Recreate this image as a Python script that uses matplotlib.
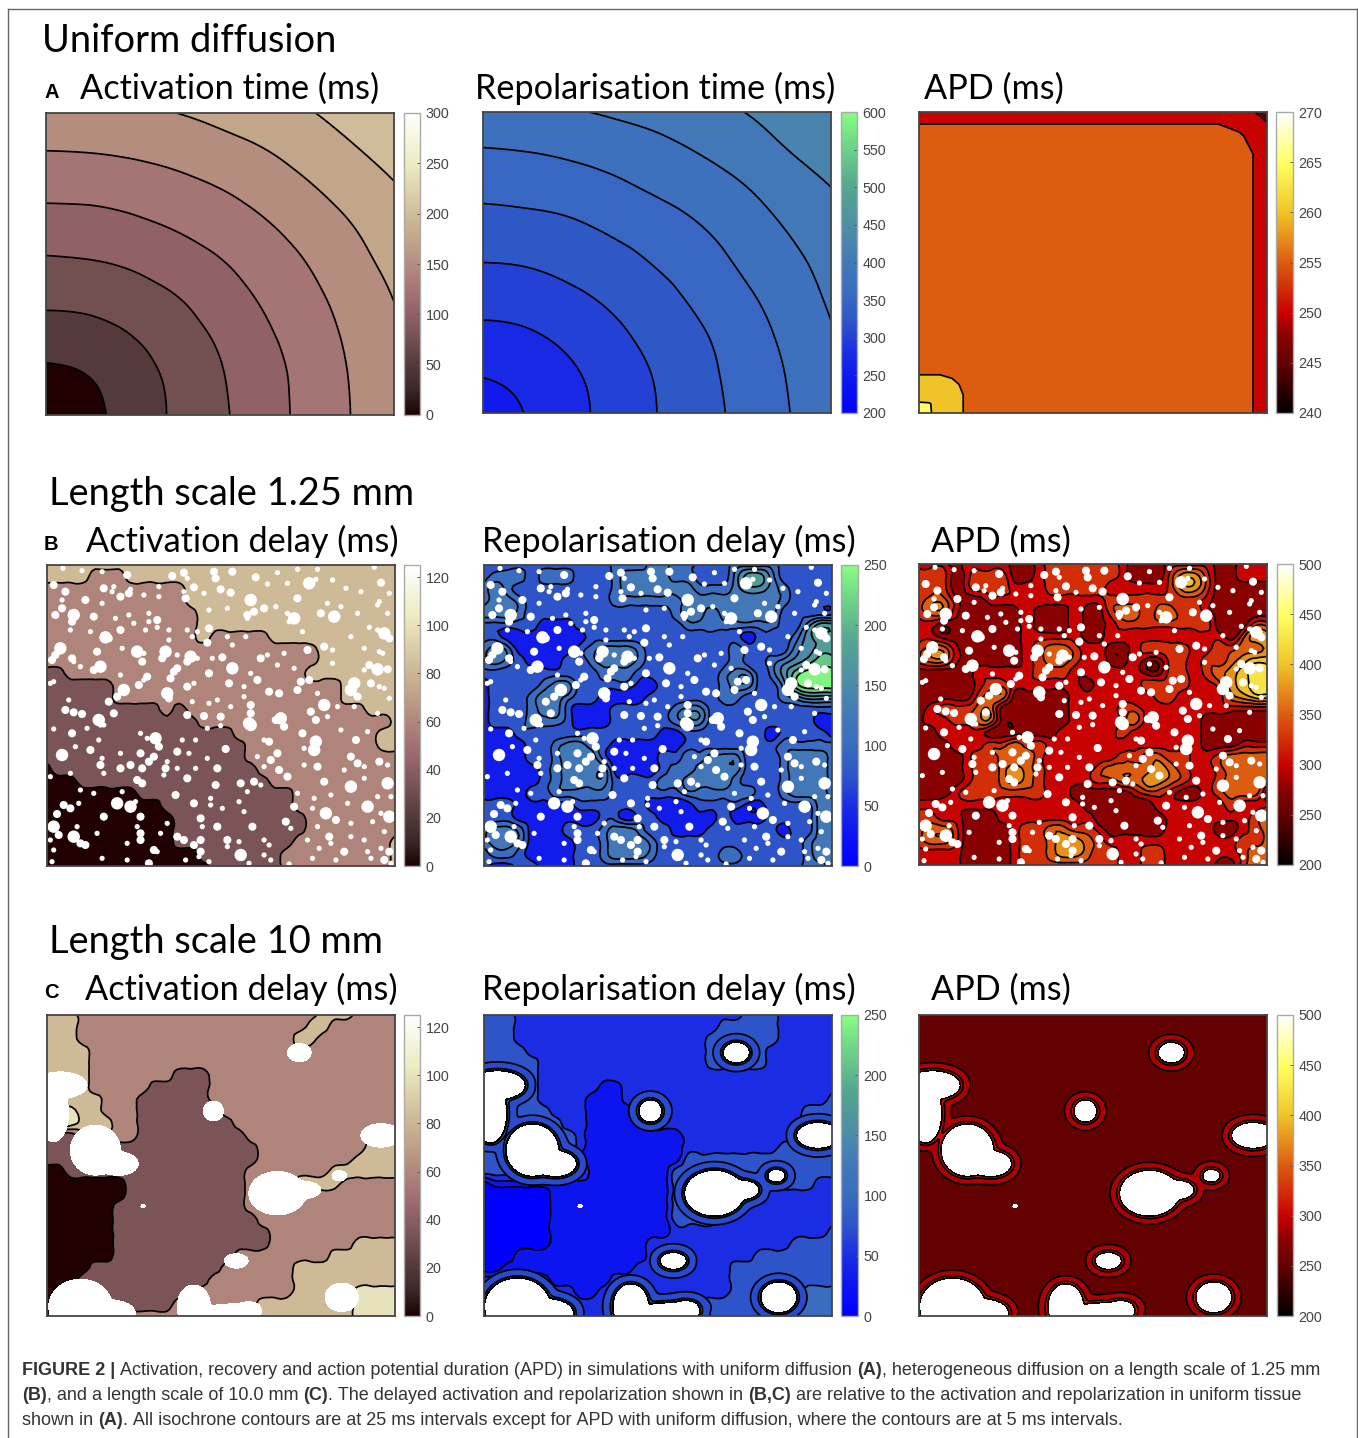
import numpy as np
import matplotlib
matplotlib.use("Agg")
import matplotlib.pyplot as plt
from matplotlib.cm import ScalarMappable
from matplotlib.colors import LinearSegmentedColormap, Normalize
from matplotlib.lines import Line2D
from matplotlib.tri import Triangulation, UniformTriRefiner

W, H = 1358, 1438

# uniform tissue, values read at eighths of the tissue width and height
ACT_TIME = [
    [25, 43, 61, 79, 96, 114, 132, 150, 168],
    [43, 50, 64, 81, 98, 115, 133, 151, 169],
    [61, 64, 74, 88, 103, 120, 136, 154, 171],
    [79, 81, 88, 98, 112, 127, 142, 159, 175],
    [96, 98, 103, 112, 123, 136, 150, 166, 181],
    [114, 115, 120, 127, 136, 147, 160, 174, 189],
    [132, 133, 136, 142, 150, 160, 172, 185, 198],
    [150, 151, 154, 159, 166, 174, 185, 197, 209],
    [168, 169, 171, 175, 181, 189, 198, 209, 221],
]
REPOL_TIME = [
    [260, 276, 292, 309, 325, 341, 357, 374, 390],
    [276, 283, 296, 311, 327, 343, 359, 376, 395],
    [292, 296, 306, 319, 333, 347, 363, 380, 398],
    [309, 311, 319, 329, 341, 355, 370, 386, 403],
    [325, 327, 333, 341, 352, 364, 379, 393, 409],
    [341, 343, 347, 355, 364, 375, 388, 402, 417],
    [357, 359, 363, 370, 379, 388, 399, 413, 425],
    [374, 376, 380, 386, 393, 402, 413, 425, 434],
    [393, 395, 398, 403, 409, 417, 425, 433, 440],
]
APD_U = [0, 3, 6, 9.5, 12.7, 20, 86, 92, 96, 100]
APD_UNIFORM = [
    [268, 265.5, 263, 261.2, 260, 258, 256, 255.8, 255, 251.5],
    [265.5, 265.3, 263, 261.2, 260, 258, 256, 255.8, 255, 251.5],
    [263, 263, 262.4, 261, 260, 258, 256, 255.8, 255, 251.5],
    [261.2, 261.2, 261, 260.5, 259.7, 258, 256, 255.8, 255, 251.5],
    [260, 260, 260, 259.7, 259.2, 258, 256, 255.8, 255, 251.5],
    [258, 258, 258, 258, 258, 257.5, 256, 255.8, 255, 251.5],
    [256, 256, 256, 256, 256, 256, 256, 255.8, 255, 251.5],
    [255.8, 255.8, 255.8, 255.8, 255.8, 255.8, 255.8, 255.5, 254, 251.2],
    [255, 255, 255, 255, 255, 255, 255, 254, 252, 250.5],
    [251.5, 251.5, 251.5, 251.5, 251.5, 251.5, 251.5, 251.2, 250.5, 247],
]

# band number of each grid node, top row first
B_ACT = [
    "333333333333333333333333333333", "333322233333333333333333333333",
    "222222222222333333333333333333", "222222222222333333333333333333",
    "222222222222233333333333333333", "222222222222233333333333333333",
    "222222222222232222233333333333", "222222222222222222222223333333",
    "222222222222222222222223333333", "112222222222222222222233333333",
    "111111222222222222222222233333", "111111222222222222222222233333",
    "111111111121222222222222222333", "111111111111122222222222222223",
    "111111111111111122222222222233", "111111111111111112222222222233",
    "111111111111111112222222222222", "011111111111111111222222222222",
    "000111111111111111122222222222", "000000001111111111111222222222",
    "000000000011111111111222222222", "000000000001111111111122222222",
    "000000000001111111111122222222", "000000000001111111111222222223",
    "000000000000011111112222222223", "000000000000001111112222222223",
]
B_REP = [
    "333333333334445544333444433333", "344434443334555544333577533333",
    "454333333334555555444566543333", "455433333334444445555555543333",
    "555433333333333345545555533333", "333332223333333334444444433577",
    "332222222333333333333323334677", "454222223455543333333433335677",
    "454322233455543333333433456788", "333333333344433333334553468999",
    "233334553333322333334553358999", "233345543322223333334433345666",
    "233345532223333345533333333333", "233344432223333345533333333322",
    "222333333333333223333333233332", "222233455432222223333333344444",
    "222233455532222334455533345554", "222223455552222344555533345554",
    "222223455553333445555433345554", "222233444443333334444443345554",
    "333222223333332222333322333355", "333222222233233222223222333355",
    "455422233345543322233333323355", "455422223345554333333333333455",
    "344322223345554333334433333455", "322332223333333333333333333445",
]
B_APD = [
    "222122221123333332111222211222", "333123331123333332111355311222",
    "333123332223333322222355311111", "344211222222222233333333211111",
    "344211111211121134434433211111", "221111111211121123333333311133",
    "221111111222221122222222221355", "344211111234432211233332233445",
    "344211111234432211211332334566", "111112222233322222211332345677",
    "111112332222221222233332235677", "111113441111122222223322224566",
    "123334411111122223322222222222", "122334411111122223422222111111",
    "112222111111222223222222111111", "111222334332222222222222111222",
    "111123344432222223344332234444", "111123345432222344445432234444",
    "111123345432222334455432234444", "111233333332211111233211234441",
    "222222222222221111112222223222", "332211122222222111111222222234",
    "344311112334433211111222211234", "344311112334554322222222222334",
    "222211112334554332233222222344", "222211112333333332233222211344",
]
C_ACT = [
    "333222222222222222222223332222", "333222222222222222222233222222",
    "333222222222222222222332222222", "333322222222222222222222222222",
    "333322222222222222222222222222", "333322222221112222222222222222",
    "333322222111112222222222222222", "333332221111112222222222222222",
    "344332221111111222222222222222", "344333221111111122222222222222",
    "111222221111111112222222222222", "111111111111111111222222222333",
    "111111111111111111222222223333", "001111111111111112222222333333",
    "000000011111111112222333322222", "000000011111111112222222222222",
    "000000111111111112222222222222", "000000111111111111222222222222",
    "000000111111111111122222222222", "000000111111111111122222223333",
    "000000111111111122222222333333", "000011111111111222222333333333",
    "000111111111112222222333333333", "001111111111122222222333334444",
    "000111111112222222333333334444", "000111222222222222333333334444",
]
C_REP = [
    "333222222222222222222233322222", "333222222222222222223333322222",
    "333222222222222222233333322222", "333322222222222222233333222222",
    "333332222222222222233333222222", "333332222222222222222222222222",
    "333332222211222222222222222222", "333332222111222222222222222223",
    "333333222111122222222222222333", "333333322111112222222222222333",
    "333333332111111112222222222333", "333333332111111112222222233333",
    "333333332111111113333333333333", "333333333111111133333333333333",
    "011111111111111133333333333322", "000000111111111133333333222222",
    "000000111111111133333322222222", "000000111111111133332222222222",
    "000000111111111122222222222223", "000000111111112222222222223333",
    "000111111111112222222223333333", "001111111111122222222333333333",
    "222222111112222222222333333333", "222222221122222222222333333444",
    "222222222222333333333333344444", "222222222222333333333333344444",
]

# unactivated spots of the 1.25 mm tissue: x, y from the panel's top left
# on a 1042 x 903 scale, and a size class
SPOTS = [
    (48,10,1),(105,17,1),(165,20,1),(240,30,2),(375,33,2),(410,23,2),(420,40,1),(500,20,2),(505,40,2),(555,20,2),
    (625,37,2),(690,23,1),(750,13,1),(810,13,1),(980,7,1),(20,60,2),(55,80,2),(250,73,1),(170,70,2),(195,80,1),
    (200,65,1),(335,65,1),(410,80,1),(440,67,2),(470,85,1),(520,73,2),(550,83,2),(660,57,1),(720,55,1),(785,55,3),
    (805,43,1),(855,45,1),(895,70,1),(940,80,1),(1000,53,2),(1025,85,1),(45,105,1),(115,105,2),(165,115,1),(220,95,2),
    (245,85,2),(290,90,1),(335,95,1),(415,100,2),(610,105,3),(750,100,2),(840,115,1),(880,125,1),(995,110,1),(485,135,1),
    (540,130,1),(45,130,2),(25,150,2),(80,150,3),(75,170,2),(140,155,2),(205,160,1),(245,150,1),(305,145,1),(330,165,2),
    (305,170,1),(260,175,1),(600,150,2),(620,140,2),(650,130,2),(685,125,1),(600,160,1),(740,160,3),(720,145,1),(820,145,2),
    (860,155,3),(930,145,1),(990,120,1),(1020,145,1),(725,170,1),(70,195,1),(130,200,1),(220,195,2),(295,195,1),(330,187,1),
    (365,195,1),(420,195,1),(450,200,1),(485,190,2),(965,187,1),(765,200,1),(910,215,1),(1010,205,3),(990,195,1),(1025,220,2),
    (595,215,1),(540,215,1),(175,217,3),(185,220,2),(365,225,1),(480,233,2),(435,215,1),(40,250,3),(25,270,2),(15,285,2),
    (75,280,2),(80,290,1),(150,260,2),(225,250,1),(270,260,3),(290,265,1),(355,260,3),(345,280,2),(390,270,1),(430,275,3),
    (420,290,2),(450,280,1),(495,280,1),(525,277,2),(555,240,1),(640,280,2),(660,270,1),(710,265,1),(780,255,2),(830,245,2),
    (855,255,1),(950,250,1),(995,260,1),(1005,265,1),(100,305,1),(160,305,3),(140,315,2),(285,290,2),(380,320,2),(390,310,2),
    (555,310,3),(485,325,2),(610,325,1),(690,300,1),(740,310,1),(965,300,2),(990,313,3),(1020,313,2),(950,315,1),(855,295,1),
    (220,330,1),(300,335,2),(290,345,1),(370,340,2),(630,345,2),(545,355,2),(785,345,2),(760,350,2),(920,355,3),(910,375,3),
    (970,355,2),(930,395,2),(1010,370,1),(1025,400,1),(275,360,2),(230,375,3),(210,395,2),(360,385,3),(365,400,2),(420,365,2),
    (440,355,1),(590,365,1),(665,380,2),(695,385,2),(750,375,2),(810,385,1),(185,410,2),(995,365,1),(65,405,1),(10,355,1),
    (20,350,1),(435,410,1),(510,405,1),(590,395,1),(610,420,2),(485,415,1),(830,420,3),(870,425,1),(550,425,1),(920,425,1),
    (55,435,2),(80,442,2),(105,447,2),(200,445,2),(155,465,3),(170,480,1),(420,450,2),(470,453,2),(520,455,2),(610,445,2),
    (605,475,3),(610,480,3),(700,460,3),(685,465,2),(790,440,2),(805,465,2),(840,455,1),(990,445,1),(20,492,1),(75,505,2),
    (120,490,1),(160,480,1),(280,505,1),(325,520,3),(335,545,2),(480,490,1),(520,482,1),(710,485,2),(765,505,2),(880,495,1),
    (925,525,2),(960,500,1),(155,525,1),(130,555,2),(85,545,1),(300,520,1),(445,525,1),(405,525,1),(390,560,2),(535,552,2),
    (650,525,1),(665,530,2),(805,530,3),(800,555,3),(45,570,3),(165,580,1),(220,565,1),(280,565,2),(320,575,2),(305,590,2),
    (425,565,1),(360,590,1),(480,580,1),(690,565,2),(670,585,2),(630,575,1),(770,550,1),(910,575,2),(930,595,2),(995,590,2),
    (1020,600,1),(160,600,2),(220,610,2),(250,600,2),(285,610,2),(355,610,2),(390,610,1),(445,610,1),(510,610,2),(650,605,1),
    (695,615,2),(770,600,1),(810,605,2),(890,615,1),(950,605,1),(10,635,1),(70,625,1),(170,625,1),(270,645,2),(285,655,2),
    (350,630,1),(420,640,2),(505,660,2),(580,655,2),(620,650,2),(640,660,1),(720,635,2),(830,650,2),(910,665,3),(1020,655,3),
    (950,640,1),(100,675,1),(140,685,1),(225,680,1),(385,690,2),(490,700,1),(600,680,1),(750,685,1),(800,700,1),(850,690,1),
    (990,695,1),(1030,695,1),(50,720,2),(95,715,1),(210,715,3),(250,725,3),(265,710,1),(440,715,2),(490,720,1),(525,730,1),
    (575,710,1),(740,725,2),(835,745,3),(960,725,3),(900,715,1),(795,730,1),(30,747,2),(70,730,2),(170,755,2),(280,755,2),
    (460,760,2),(590,740,1),(715,770,2),(865,765,2),(1025,755,3),(910,775,1),(1000,745,1),(20,785,3),(35,810,2),(80,815,3),
    (100,835,2),(115,840,2),(150,805,1),(280,805,2),(270,785,1),(360,775,1),(465,785,1),(510,785,2),(615,785,2),(730,790,1),
    (810,785,1),(975,770,1),(1010,800,1),(10,825,1),(90,785,1),(340,805,1),(390,815,2),(410,825,2),(440,840,2),(460,825,2),
    (540,825,2),(575,830,1),(650,825,1),(665,840,1),(780,825,1),(845,815,2),(850,835,1),(910,815,1),(950,825,1),(20,855,1),
    (240,835,1),(280,825,2),(320,855,2),(330,860,1),(460,860,2),(540,845,1),(580,870,3),(650,870,1),(815,850,1),(890,860,2),
    (960,860,1),(1000,850,1),(1025,860,2),(15,890,1),(165,880,1),(240,885,1),(305,895,2),(415,885,1),(455,875,1),(485,890,1),
    (605,895,1),(670,885,1),(725,897,1),(795,880,1),(865,885,1),(970,880,1),(1010,885,2),(1030,895,1),
]

# unactivated patches of the 10 mm tissue, in percent of width and height
PATCH_X = [72.5, 3.8, 1.9, 13.9, 20.6, 47.8, 96, 66.2, 73.9, 84, 54.4, 84.7, 9.6, 18.2, 42.2, 52.8, 58, 27.6]
PATCH_Y = [87.5, 76.7, 67.3, 55.1, 50.6, 68.1, 60, 40.8, 41.9, 46.6, 18.3, 6.2, 3.1, 0.9, 3.1, 0.9, 2.5, 36.5]
PATCH_RX = [3.4, 7.7, 4.3, 7.2, 5.6, 2.9, 5.8, 8.2, 4.8, 2.1, 3.4, 4.8, 9.1, 7.2, 4.8, 8.6, 3.4, 0.6]
PATCH_RY = [3.0, 4.4, 9.4, 8.3, 3.9, 3.3, 3.9, 7.2, 2.8, 1.7, 2.4, 4.7, 9.1, 4.4, 7.2, 3.1, 2.2, 0.6]

PINK_BANDS = [0, .27, .47, .66, .8]
BLUE_BANDS = [0, .1, .13, .3, .4, .5, .6, .7, .85, .97]
TICKS_ACT = [0, 20, 40, 60, 80, 100, 120]
TICKS_REP = [0, 50, 100, 150, 200, 250]
TICKS_APD = [200, 250, 300, 350, 400, 450, 500]

pink = LinearSegmentedColormap.from_list("pinkish", [
    (0, "#200000"), (.083, "#3a2828"), (.167, "#553a3a"), (.25, "#735050"), (.33, "#8f6066"),
    (.417, "#a57575"), (.5, "#b58c7f"), (.583, "#c2a68a"), (.667, "#d0bc9a"), (.83, "#ecebc0"), (1, "#ffffff")])
blue = LinearSegmentedColormap.from_list("bluegreen", [
    (0, "#0000ff"), (.1, "#0c14f0"), (.2, "#1a2ce4"), (.3, "#2d55c8"), (.4, "#3a6cc0"), (.5, "#4278b8"),
    (.6, "#4d8aaa"), (.75, "#55a590"), (.9, "#70d888"), (1, "#88ff80")])
hot = LinearSegmentedColormap.from_list("hotish", [
    (0, "#000000"), (.167, "#640000"), (.25, "#880000"), (.33, "#c80000"), (.5, "#dc5c10"),
    (.667, "#f0c428"), (.83, "#ffff60"), (1, "#ffffff")])

plt.rcParams["font.family"] = ["Liberation Sans", "DejaVu Sans"]
fig = plt.figure(figsize=(W / 100, H / 100), dpi=100)


def panel(x0, y0, x1, y1):
    ax = fig.add_axes([x0 / W, 1 - y1 / H, (x1 - x0) / W, (y1 - y0) / H])
    ax.set_xlim(0, 100)
    ax.set_ylim(0, 100)
    ax.set_xticks([])
    ax.set_yticks([])
    for s in ax.spines.values():
        s.set_color("#444444")
        s.set_linewidth(1.3)
        s.set_zorder(10)
    return ax


def colorbar(x0, y0, x1, y1, cmap, vmin, vmax, ticks):
    cax = fig.add_axes([x0 / W, 1 - y1 / H, (x1 - x0) / W, (y1 - y0) / H])
    sm = ScalarMappable(Normalize(vmin, vmax), cmap)
    cb = fig.colorbar(sm, cax=cax, ticks=ticks)
    cb.outline.set_edgecolor("#aaaaaa")
    cb.outline.set_linewidth(1)
    cax.tick_params(length=2.5, width=.7, direction="in", color="#555555", labelcolor="#444444",
                    labelsize=10.3, pad=4)


def smooth_field(ax, x, y, z, levels, colors, subdiv=3):
    xx, yy = np.meshgrid(x, y)
    tri = Triangulation(xx.ravel(), yy.ravel())
    tri2, z2 = UniformTriRefiner(tri).refine_field(np.asarray(z, float).ravel(), subdiv=subdiv)
    z2 = np.clip(z2, levels[0] + 1e-3, levels[-1] - 1e-3)
    ax.tricontourf(tri2, z2, levels=levels, colors=colors)
    ax.tricontour(tri2, z2, levels=levels[1:-1], colors="black", linewidths=1.25)


def band_field(ax, rows, fractions, cmap):
    z = np.array([[int(c) for c in r.ljust(30, r[-1])[:30]] for r in rows], float)[::-1]
    x = np.linspace(0, 100, z.shape[1])
    y = np.linspace(0, 100, z.shape[0])
    levels = np.arange(len(fractions) + 1) - .5
    smooth_field(ax, x, y, z, levels, [cmap(f) for f in fractions], subdiv=2)


def spots(ax):
    sx, sy, sr = zip(*SPOTS)
    s = np.array([0, 14, 34, 80])[np.array(sr)]
    ax.scatter(np.array(sx) / 10.42, 100 - np.array(sy) / 9.03, s=s, c="white", linewidths=0, zorder=5)


def patch_distance(n=600, skip_dot=False):
    x = np.linspace(0, 100, n)
    xx, yy = np.meshgrid(x, x)
    total = np.zeros_like(xx)
    for cx, cy, rx, ry in zip(PATCH_X, PATCH_Y, PATCH_RX, PATCH_RY):
        if skip_dot and rx < 1:
            continue
        r = np.sqrt(((xx - cx) / rx) ** 2 + ((yy - cy) / ry) ** 2) + 1e-6
        g = np.sqrt(((xx - cx) / rx ** 2) ** 2 + ((yy - cy) / ry ** 2) ** 2) / r
        total += np.exp(-2 * (r - 1) / g)
    return x, -np.log(total) / 2


def patches(ax, ring_levels=None, ring_colors=None, line_levels=None):
    x, d = patch_distance(skip_dot=True)
    if ring_levels is not None:
        ax.contourf(x, x, d, levels=ring_levels, colors=ring_colors, zorder=3)
        ax.contour(x, x, d, levels=line_levels, colors="black", linewidths=1.25, zorder=4)
        ax.contour(x, x, d, levels=[.18], colors="black", linewidths=2.4, zorder=4)
    x, d = patch_distance()
    ax.contourf(x, x, d, levels=[d.min() - 1, 0], colors="white", zorder=5)


def label(x, y, text, size=24.7, family="Lato", weight="normal"):
    fig.text(x / W, 1 - y / H, text, fontsize=size, family=family, weight=weight, va="baseline", color="black")


# row A
ax = panel(46, 113, 394, 415)
u = np.linspace(0, 100, 9)
levels = [0, 50, 75, 100, 125, 150, 175, 200, 225]
smooth_field(ax, u, u, ACT_TIME, levels, [pink(v / 300) for v in levels[:-1]])
colorbar(404, 113, 420, 415, pink, 0, 300, [0, 50, 100, 150, 200, 250, 300])

ax = panel(483, 112, 831, 413)
levels = [200, 275, 300, 325, 350, 375, 400, 425, 450]
fills = [blue((v - 200) / 400) for v in [250, 275, 300, 325, 350, 375, 400, 425]]
smooth_field(ax, u, u, REPOL_TIME, levels, fills)
colorbar(841, 112, 857, 413, blue, 200, 600, [200, 250, 300, 350, 400, 450, 500, 550, 600])

ax = panel(919, 112, 1267, 413)
levels = [245, 250, 255, 260, 265, 270]
ax.contourf(APD_U, APD_U, APD_UNIFORM, levels=levels, colors=[hot((v - 240) / 30) for v in levels[:-1]])
ax.contour(APD_U, APD_U, APD_UNIFORM, levels=levels[1:-1], colors="black", linewidths=1.25)
colorbar(1276, 112, 1293, 413, hot, 240, 270, [240, 245, 250, 255, 260, 265, 270])

# row B
ax = panel(47, 565, 395, 866)
band_field(ax, B_ACT, PINK_BANDS, pink)
spots(ax)
colorbar(404, 565, 420, 866, pink, 0, 125, TICKS_ACT)

ax = panel(484, 565, 832, 866)
band_field(ax, B_REP, BLUE_BANDS, blue)
spots(ax)
colorbar(841, 565, 858, 866, blue, 0, 250, TICKS_REP)

ax = panel(919, 564, 1267, 865)
band_field(ax, B_APD, [(d * 25 + 50) / 300 for d in range(9)], hot)
spots(ax)
colorbar(1277, 564, 1293, 865, hot, 200, 500, TICKS_APD)

# row C
ax = panel(47, 1015, 395, 1316)
band_field(ax, C_ACT, PINK_BANDS, pink)
patches(ax)
colorbar(404, 1015, 420, 1316, pink, 0, 125, TICKS_ACT)

ax = panel(484, 1015, 832, 1316)
band_field(ax, C_REP, [d * .1 for d in range(5)], blue)
patches(ax, [0, .5, 1.1, 3.3], [blue(.6), blue(.45), blue(.28)], [.5, 1.1, 3.3])
colorbar(841, 1015, 858, 1316, blue, 0, 250, TICKS_REP)

ax = panel(919, 1015, 1267, 1316)
ax.set_facecolor(hot(.167))
patches(ax, [0, 1.2, 3.1], [hot(.36), hot(.3)], [1.2, 3.1])
colorbar(1277, 1015, 1293, 1316, hot, 200, 500, TICKS_APD)

# headings
label(42, 52, "Uniform diffusion", 27.4)
label(44, 98, "A", 14.5, "Liberation Sans", "bold")
label(80, 99, "Activation time (ms)")
label(475, 99, "Repolarisation time (ms)")
label(924, 99, "APD (ms)")
label(49, 505, "Length scale 1.25 mm", 27.4)
label(44, 550, "B", 14.5, "Liberation Sans", "bold")
label(86, 552, "Activation delay (ms)")
label(482, 552, "Repolarisation delay (ms)")
label(931, 552, "APD (ms)")
label(49, 953, "Length scale 10 mm", 27.4)
label(44, 998, "C", 14.5, "Liberation Sans", "bold")
label(85, 1000, "Activation delay (ms)")
label(482, 1000, "Repolarisation delay (ms)")
label(931, 1000, "APD (ms)")

# caption, bold and regular runs side by side
CAPTION = [
    [("FIGURE 2 |", True), (" Activation, recovery and action potential duration (APD) in simulations with uniform diffusion ", False),
     ("(A)", True), (", heterogeneous diffusion on a length scale of 1.25 mm", False)],
    [("(B)", True), (", and a length scale of 10.0 mm ", False), ("(C)", True),
     (". The delayed activation and repolarization shown in ", False), ("(B,C)", True),
     (" are relative to the activation and repolarization in uniform tissue", False)],
    [("shown in ", False), ("(A)", True),
     (". All isochrone contours are at 25 ms intervals except for APD with uniform diffusion, where the contours are at 5 ms intervals.", False)],
]
renderer = fig.canvas.get_renderer()
for line, y in zip(CAPTION, [1375, 1400, 1425]):
    x = 22
    for text, bold in line:
        t = fig.text(x / W, 1 - y / H, text.replace(" ", "\u00a0"), fontsize=13, family="Liberation Sans",
                     color="#333333", weight="bold" if bold else "normal", va="baseline")
        x = t.get_window_extent(renderer).x1

# frame around the figure
for xs, ys in [([8, 8], [9, 1438]), ([8, 1357], [9, 9]), ([1357, 1357], [9, 1438])]:
    fig.add_artist(Line2D([a / W for a in xs], [1 - b / H for b in ys], color="#666666", linewidth=1))

fig.savefig("out.png", dpi=100)
